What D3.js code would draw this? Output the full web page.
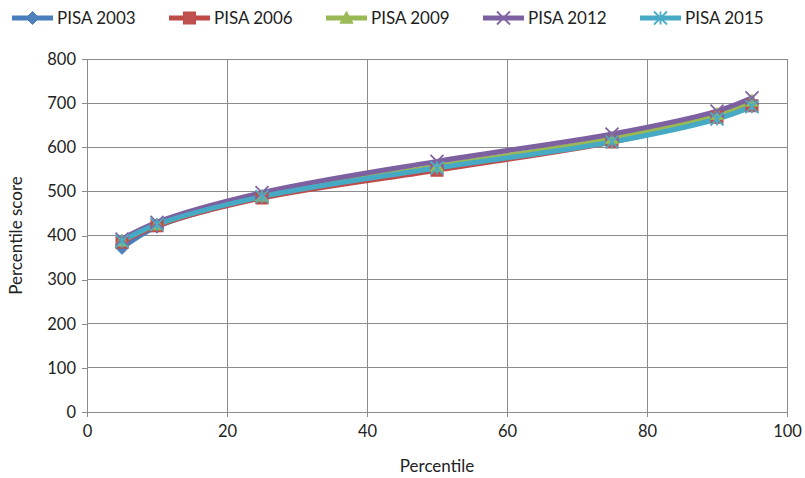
<!DOCTYPE html>
<html>
<head>
<meta charset="utf-8">
<script src="https://cdn.jsdelivr.net/npm/d3@7"></script>
<style>
  html, body { margin: 0; padding: 0; background: #fff; }
  svg { display: block; font-family: Lato, "Open Sans", sans-serif; }
</style>
</head>
<body>
<svg id="chart" width="805" height="478"></svg>
<script>
// Percentile points on the x axis
const percentiles = [5, 10, 25, 50, 75, 90, 95];

// Percentile scores per PISA cycle
const pisa2003 = [372, 420, 487, 552, 616, 670, 697];
const pisa2006 = [385, 422, 485, 548, 612, 668, 694];
const pisa2009 = [388, 425, 490, 557, 620, 675, 705];
const pisa2012 = [392, 430, 497, 568, 630, 682, 712];
const pisa2015 = [387, 425, 488, 553, 612, 664, 692];

const seriesNames = ["PISA 2003", "PISA 2006", "PISA 2009", "PISA 2012", "PISA 2015"];
const seriesValues = [pisa2003, pisa2006, pisa2009, pisa2012, pisa2015];
const seriesColors = ["#4A7EBB", "#BE4B48", "#98B954", "#7D60A0", "#46AAC5"];
const markerFills = ["#4F81BD", "#C0504D", "#9BBB59", "#8064A2", "#4BACC6"];
const markerKinds = ["diamond", "square", "triangle", "x", "star"];

const xTicks = [0, 20, 40, 60, 80, 100];
const yTicks = [0, 100, 200, 300, 400, 500, 600, 700, 800];

const svg = d3.select("#chart");
const m = { left: 87, right: 18, top: 59, bottom: 66 };
const W = 805, H = 478;

const x = d3.scaleLinear().domain([0, 100]).range([m.left, W - m.right]);
const y = d3.scaleLinear().domain([0, 800]).range([H - m.bottom, m.top]);

const gridColor = "#8C8C8C";

// Gridlines
svg.append("g").selectAll("line").data(yTicks).join("line")
  .attr("x1", x(0)).attr("x2", x(100))
  .attr("y1", d => y(d)).attr("y2", d => y(d))
  .attr("stroke", gridColor).attr("stroke-width", 1).attr("shape-rendering", "crispEdges");
svg.append("g").selectAll("line").data(xTicks).join("line")
  .attr("x1", d => x(d)).attr("x2", d => x(d))
  .attr("y1", y(0)).attr("y2", y(800))
  .attr("stroke", gridColor).attr("stroke-width", 1).attr("shape-rendering", "crispEdges");

// Axes
const yAxis = d3.axisLeft(y).tickValues(yTicks).tickSize(5).tickPadding(6);
const xAxis = d3.axisBottom(x).tickValues(xTicks).tickSize(5).tickPadding(8);

const gy = svg.append("g").attr("transform", `translate(${x(0)},0)`).call(yAxis);
const gx = svg.append("g").attr("transform", `translate(0,${y(0)})`).call(xAxis);
[gx, gy].forEach(g => {
  g.select(".domain").attr("stroke", gridColor).attr("shape-rendering", "crispEdges");
  g.selectAll(".tick line").attr("stroke", gridColor).attr("shape-rendering", "crispEdges");
  g.selectAll(".tick text").attr("fill", "#222").attr("font-size", 16.5)
    .attr("font-family", "Lato, 'Open Sans', sans-serif");
});

// Axis titles
svg.append("text").attr("x", x(50)).attr("y", 472)
  .attr("text-anchor", "middle").attr("font-size", 17).attr("fill", "#222")
  .text("Percentile");
svg.append("text")
  .attr("transform", `translate(22,${(y(0) + y(800)) / 2}) rotate(-90)`)
  .attr("text-anchor", "middle").attr("font-size", 17).attr("fill", "#222")
  .text("Percentile score");

// Marker drawing
function drawMarker(g, kind, cx, cy, color, fill) {
  const s = 6.5;
  if (kind === "diamond") {
    g.append("path").attr("d", `M${cx},${cy - s}L${cx + s},${cy}L${cx},${cy + s}L${cx - s},${cy}Z`)
      .attr("fill", fill).attr("stroke", color).attr("stroke-width", 1);
  } else if (kind === "square") {
    g.append("rect").attr("x", cx - s + 0.5).attr("y", cy - s + 0.5).attr("width", 2 * s - 1).attr("height", 2 * s - 1)
      .attr("fill", fill).attr("stroke", color).attr("stroke-width", 1);
  } else if (kind === "triangle") {
    g.append("path").attr("d", `M${cx},${cy - s}L${cx + s},${cy + s * 0.8}L${cx - s},${cy + s * 0.8}Z`)
      .attr("fill", fill).attr("stroke", color).attr("stroke-width", 1);
  } else if (kind === "x") {
    g.append("path").attr("d", `M${cx - s},${cy - s}L${cx + s},${cy + s}M${cx - s},${cy + s}L${cx + s},${cy - s}`)
      .attr("stroke", fill).attr("stroke-width", 1.8).attr("fill", "none");
  } else if (kind === "star") {
    g.append("path").attr("d", `M${cx - s},${cy - s}L${cx + s},${cy + s}M${cx - s},${cy + s}L${cx + s},${cy - s}M${cx},${cy - s}L${cx},${cy + s}`)
      .attr("stroke", fill).attr("stroke-width", 1.8).attr("fill", "none");
  }
}

// Series lines and markers
const line = d3.line()
  .x((d, i) => x(percentiles[i]))
  .y(d => y(d))
  .curve(d3.curveCatmullRom.alpha(0.5));

const plot = svg.append("g");
seriesValues.forEach((vals, k) => {
  plot.append("path").datum(vals)
    .attr("d", line)
    .attr("fill", "none")
    .attr("stroke", seriesColors[k])
    .attr("stroke-width", 5)
    .attr("stroke-linejoin", "round")
    .attr("stroke-linecap", "round");
});
seriesValues.forEach((vals, k) => {
  const g = plot.append("g");
  vals.forEach((v, i) => drawMarker(g, markerKinds[k], x(percentiles[i]), y(v), seriesColors[k], markerFills[k]));
});

// Legend
const legend = svg.append("g");
const legStart = 12, legStep = 157, legY = 18;
seriesNames.forEach((name, k) => {
  const lx = legStart + k * legStep;
  legend.append("line")
    .attr("x1", lx).attr("x2", lx + 41)
    .attr("y1", legY).attr("y2", legY)
    .attr("stroke", seriesColors[k]).attr("stroke-width", 5);
  drawMarker(legend, markerKinds[k], lx + 20.5, legY, seriesColors[k], markerFills[k]);
  legend.append("text").attr("x", lx + 45).attr("y", legY + 6)
    .attr("font-size", 17).attr("fill", "#222").text(name);
});
</script>
</body>
</html>
